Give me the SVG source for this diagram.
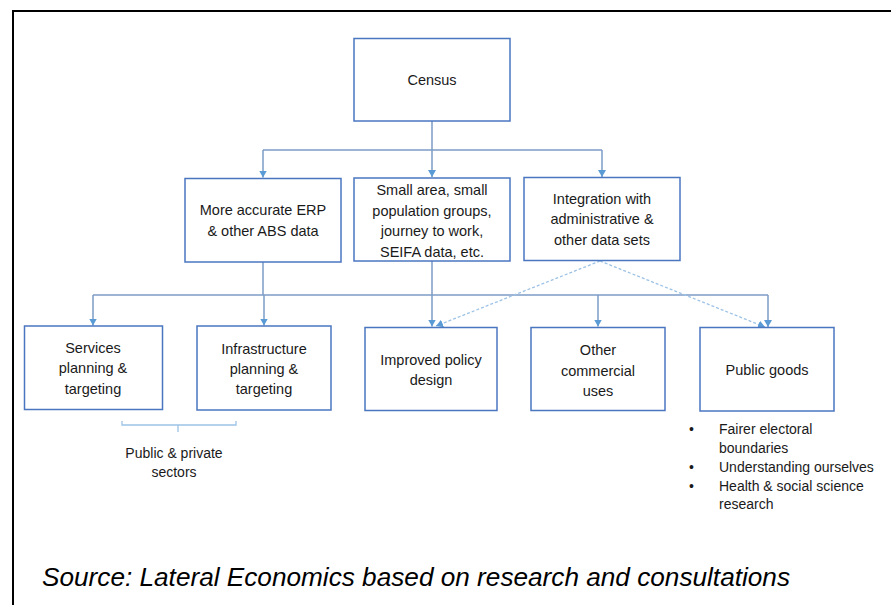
<svg xmlns="http://www.w3.org/2000/svg" width="891" height="605" viewBox="0 0 891 605">
<style>
.box{fill:#ffffff;stroke:#4a76c0;stroke-width:1.5}
.t{font-family:"Liberation Sans",Arial,sans-serif;font-size:14.5px;fill:#1a1a1a;text-anchor:middle}
.s{font-family:"Liberation Sans",Arial,sans-serif;font-size:14px;fill:#1a1a1a}
.c{fill:none;stroke:#7d9cc6;stroke-width:1.5}
.d{fill:none;stroke:#9dc3e6;stroke-width:1.3;stroke-dasharray:3 2}
</style>
<defs>
<marker id="ah" markerUnits="userSpaceOnUse" markerWidth="8" markerHeight="9" refX="7" refY="4" orient="auto" viewBox="0 0 8 8">
<path d="M0,0 L7,4 L0,8 z" fill="#5b9bd5"/>
</marker>
</defs>
<rect width="891" height="605" fill="#ffffff"/>
<path d="M13,605 V11 H891" fill="none" stroke="#000" stroke-width="2"/>

<g id="connectors">
<path class="c" d="M432,121 V150 M263,150 H602"/>
<path class="c" d="M263,150 V177.5" marker-end="url(#ah)"/>
<path class="c" d="M432,150 V177" marker-end="url(#ah)"/>
<path class="c" d="M602,150 V177" marker-end="url(#ah)"/>
<path class="c" d="M263,262 V295 M93,295 H768 M432,261 V295"/>
<path class="c" d="M93,295 V325.5" marker-end="url(#ah)"/>
<path class="c" d="M264,295 V325.5" marker-end="url(#ah)"/>
<path class="c" d="M432,295 V326.5" marker-end="url(#ah)"/>
<path class="c" d="M598,295 V326.5" marker-end="url(#ah)"/>
<path class="c" d="M768,295 V327" marker-end="url(#ah)"/>
<path class="d" d="M600,261 L436,326" marker-end="url(#ah)"/>
<path class="d" d="M600,261 L765,327" marker-end="url(#ah)"/>
<path d="M122,421 V425 H236 V421 M178,425 V432" fill="none" stroke="#9dc3e6" stroke-width="1.3"/>
</g>

<g id="census">
<rect class="box" x="354" y="38.5" width="156" height="82.5"/>
<text class="t" x="432" y="85">Census</text>
</g>
<g id="erp">
<rect class="box" x="185" y="178.5" width="156" height="83.5"/>
<text class="t" x="263" y="215">More accurate ERP</text>
<text class="t" x="263" y="236">&amp; other ABS data</text>
</g>
<g id="small-area">
<rect class="box" x="354" y="178" width="156" height="83"/>
<text class="t" x="432" y="195">Small area, small</text>
<text class="t" x="432" y="215.5">population groups,</text>
<text class="t" x="432" y="236">journey to work,</text>
<text class="t" x="432" y="256.5">SEIFA data, etc.</text>
</g>
<g id="integration">
<rect class="box" x="524" y="177.5" width="156" height="83"/>
<text class="t" x="602" y="203.5">Integration with</text>
<text class="t" x="602" y="224">administrative &amp;</text>
<text class="t" x="602" y="244.5">other data sets</text>
</g>
<g id="services">
<rect class="box" x="24.5" y="326" width="138" height="83.5"/>
<text class="t" x="93" y="352.5">Services</text>
<text class="t" x="93" y="373">planning &amp;</text>
<text class="t" x="93" y="393.5">targeting</text>
</g>
<g id="infrastructure">
<rect class="box" x="197" y="326" width="134" height="84"/>
<text class="t" x="264" y="353.5">Infrastructure</text>
<text class="t" x="264" y="374">planning &amp;</text>
<text class="t" x="264" y="394">targeting</text>
</g>
<g id="policy">
<rect class="box" x="365" y="327.5" width="132" height="83"/>
<text class="t" x="431" y="365">Improved policy</text>
<text class="t" x="431" y="385">design</text>
</g>
<g id="commercial">
<rect class="box" x="531" y="327.5" width="134" height="83"/>
<text class="t" x="598" y="355">Other</text>
<text class="t" x="598" y="375.5">commercial</text>
<text class="t" x="598" y="396">uses</text>
</g>
<g id="public-goods">
<rect class="box" x="700" y="327.5" width="134" height="83.5"/>
<text class="t" x="767" y="375">Public goods</text>
</g>

<g id="sectors-label">
<text class="s" x="174" y="458" text-anchor="middle">Public &amp; private</text>
<text class="s" x="174" y="477" text-anchor="middle">sectors</text>
</g>
<g id="public-goods-list">
<text class="s" x="689" y="434">•</text>
<text class="s" x="719" y="434">Fairer electoral</text>
<text class="s" x="719" y="452.5">boundaries</text>
<text class="s" x="689" y="471.5">•</text>
<text class="s" x="719" y="471.5">Understanding ourselves</text>
<text class="s" x="689" y="490.5">•</text>
<text class="s" x="719" y="490.5">Health &amp; social science</text>
<text class="s" x="719" y="509">research</text>
</g>

<text x="42" y="586" font-family="'Liberation Sans',Arial,sans-serif" font-style="italic" font-size="25.5" fill="#000" textLength="748" lengthAdjust="spacingAndGlyphs">Source: Lateral Economics based on research and consultations</text>
</svg>
